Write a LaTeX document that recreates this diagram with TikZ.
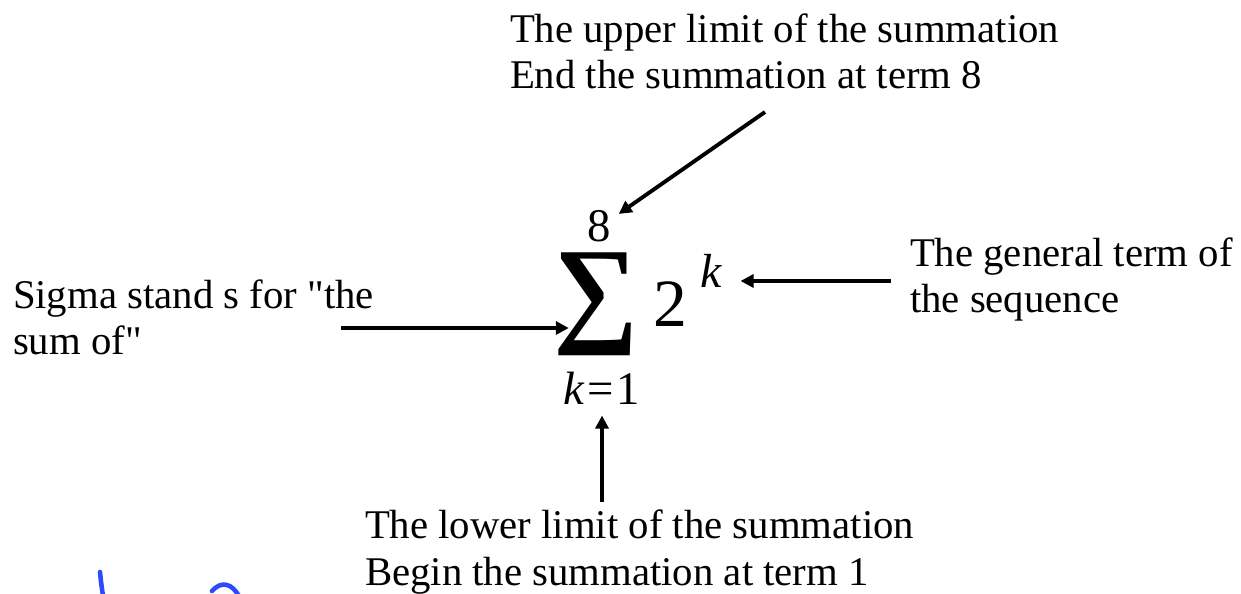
\documentclass[tikz,border=0pt]{standalone}
\usepackage{fontspec}
\setmainfont{Liberation Serif}
\usepackage{graphicx}
\usepackage{xcolor}
\usetikzlibrary{arrows.meta, positioning}
\definecolor{pen}{RGB}{45,75,250}

\begin{document}
\begin{tikzpicture}[
        x=0.02cm, y=-0.02cm,
        >={Triangle[length=7.4pt, width=7.4pt]},
        every node/.style={inner sep=0pt, outer sep=0pt},
        note/.style={anchor=base west, align=left, font=\fontsize{23.2}{26.2}\selectfont},
        limit/.style={anchor=base, font=\fontsize{26.6}{30}\selectfont},
        arr/.style={->, line width=2.2pt},
        ink/.style={line width=2.6pt, draw=pen, line cap=round},
    ]
    \useasboundingbox (0,0) rectangle (1241,594);

    %% ===== Summation =====
    \node[anchor=north west] (sigma) at (553,253) {\resizebox*{1.70cm}{2.06cm}{\bfseries ∑}};
    \node[limit] (upto) at (599,242) {8};
    \node[limit, anchor=base west] (from) at (563,405) {\textit{k}\kern1.5pt=\kern1.5pt1};
    \node[anchor=base west, font=\fontsize{38.5}{40}\selectfont] (base) at (653,327) {2};
    \node[anchor=base west, font=\fontsize{27.2}{30}\selectfont\itshape] (expo) at (700,288) {k};

    %% ===== Notes (anchored on the last line) =====
    \node[note] (upper) at (510,89) {The upper limit of the summation\\End the summation at term 8};
    \node[note] (lower) at (365,585) {The lower limit of the summation\\Begin the summation at term 1};
    \node[note] (meaning) at (13,355) {Sigma stand s for \textquotedbl the\\sum of\textquotedbl};
    \node[note] (general) at (910,313) {The general term of\\the sequence};

    %% ===== Arrows =====
    \coordinate (upperfoot) at (765,112);
    \coordinate (lowerfoot) at (602,502);
    \coordinate (meaningfoot) at (341,328);
    \coordinate (generalfoot) at (891,281);
    \draw[arr] (upperfoot) -- ([shift={(8,3)}]upto.north east);
    \draw[arr] (lowerfoot) -- ([yshift=-6]lowerfoot |- from.south);
    \draw[arr] (meaningfoot) -- ([xshift=9]meaningfoot -| sigma.west);
    \draw[arr] (generalfoot) -- ([xshift=11]generalfoot -| expo.east);

    %% ===== Pen marks =====
    \draw[ink] (100,572) .. controls (101,582) .. (103,596);
    \draw[ink] (212,591) .. controls (222,580) and (232,584) .. (239,596);

\end{tikzpicture}
\end{document}
